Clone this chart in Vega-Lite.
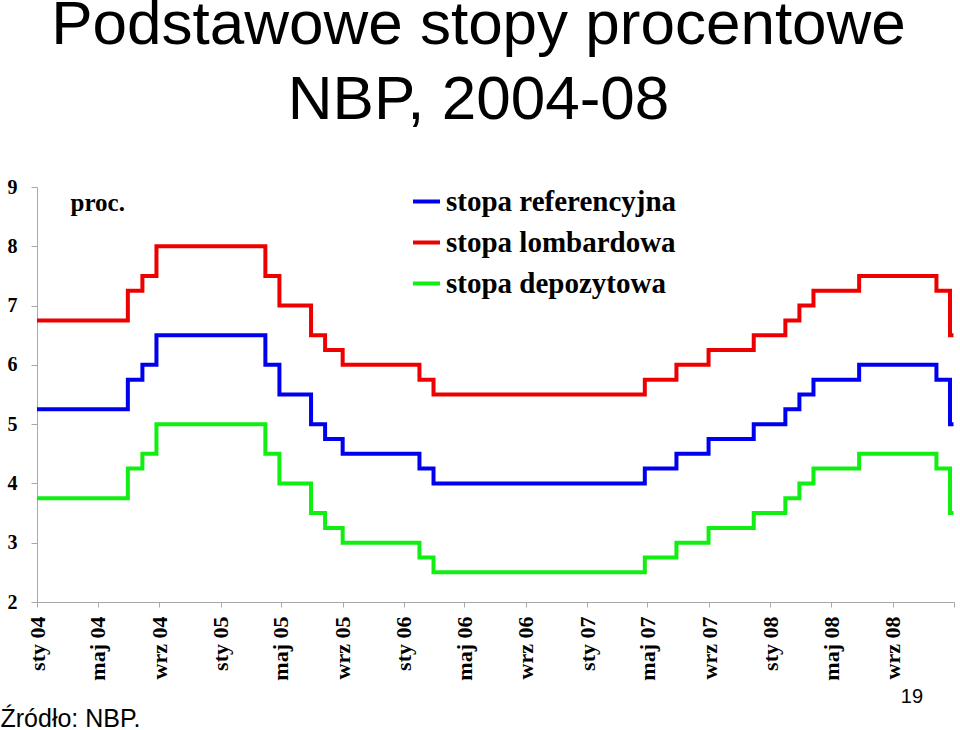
{
  "$schema": "https://vega.github.io/schema/vega-lite/v6.json",
  "width": 917,
  "height": 415,
  "autosize": {"type": "none"},
  "padding": {"left": 37, "top": 187, "right": 6, "bottom": 128},
  "background": "white",
  "config": {"view": {"stroke": null}},
  "title": {
    "text": ["Podstawowe stopy procentowe", "NBP, 2004-08"],
    "fontSize": 62,
    "font": "Liberation Sans",
    "fontWeight": "normal",
    "color": "black",
    "lineHeight": 75,
    "anchor": "middle",
    "frame": "group",
    "dx": -17,
    "offset": 45
  },
  "layer": [
    {
      "data": {
        "values": [
          {"series": "stopa referencyjna", "date": "2004-01-01T00:00", "rate": 5.25},
          {"series": "stopa referencyjna", "date": "2004-06-30T00:00", "rate": 5.75},
          {"series": "stopa referencyjna", "date": "2004-07-29T00:00", "rate": 6.0},
          {"series": "stopa referencyjna", "date": "2004-08-26T00:00", "rate": 6.5},
          {"series": "stopa referencyjna", "date": "2005-03-31T00:00", "rate": 6.0},
          {"series": "stopa referencyjna", "date": "2005-04-28T00:00", "rate": 5.5},
          {"series": "stopa referencyjna", "date": "2005-06-30T00:00", "rate": 5.0},
          {"series": "stopa referencyjna", "date": "2005-07-28T00:00", "rate": 4.75},
          {"series": "stopa referencyjna", "date": "2005-09-01T00:00", "rate": 4.5},
          {"series": "stopa referencyjna", "date": "2006-02-01T00:00", "rate": 4.25},
          {"series": "stopa referencyjna", "date": "2006-03-01T00:00", "rate": 4.0},
          {"series": "stopa referencyjna", "date": "2007-04-26T00:00", "rate": 4.25},
          {"series": "stopa referencyjna", "date": "2007-06-28T00:00", "rate": 4.5},
          {"series": "stopa referencyjna", "date": "2007-08-31T00:00", "rate": 4.75},
          {"series": "stopa referencyjna", "date": "2007-11-29T00:00", "rate": 5.0},
          {"series": "stopa referencyjna", "date": "2008-01-31T00:00", "rate": 5.25},
          {"series": "stopa referencyjna", "date": "2008-02-28T00:00", "rate": 5.5},
          {"series": "stopa referencyjna", "date": "2008-03-27T00:00", "rate": 5.75},
          {"series": "stopa referencyjna", "date": "2008-06-26T00:00", "rate": 6.0},
          {"series": "stopa referencyjna", "date": "2008-11-27T00:00", "rate": 5.75},
          {"series": "stopa referencyjna", "date": "2008-12-24T00:00", "rate": 5.0},
          {"series": "stopa referencyjna", "date": "2008-12-31T00:00", "rate": 5.0},

          {"series": "stopa lombardowa", "date": "2004-01-01T00:00", "rate": 6.75},
          {"series": "stopa lombardowa", "date": "2004-06-30T00:00", "rate": 7.25},
          {"series": "stopa lombardowa", "date": "2004-07-29T00:00", "rate": 7.5},
          {"series": "stopa lombardowa", "date": "2004-08-26T00:00", "rate": 8.0},
          {"series": "stopa lombardowa", "date": "2005-03-31T00:00", "rate": 7.5},
          {"series": "stopa lombardowa", "date": "2005-04-28T00:00", "rate": 7.0},
          {"series": "stopa lombardowa", "date": "2005-06-30T00:00", "rate": 6.5},
          {"series": "stopa lombardowa", "date": "2005-07-28T00:00", "rate": 6.25},
          {"series": "stopa lombardowa", "date": "2005-09-01T00:00", "rate": 6.0},
          {"series": "stopa lombardowa", "date": "2006-02-01T00:00", "rate": 5.75},
          {"series": "stopa lombardowa", "date": "2006-03-01T00:00", "rate": 5.5},
          {"series": "stopa lombardowa", "date": "2007-04-26T00:00", "rate": 5.75},
          {"series": "stopa lombardowa", "date": "2007-06-28T00:00", "rate": 6.0},
          {"series": "stopa lombardowa", "date": "2007-08-31T00:00", "rate": 6.25},
          {"series": "stopa lombardowa", "date": "2007-11-29T00:00", "rate": 6.5},
          {"series": "stopa lombardowa", "date": "2008-01-31T00:00", "rate": 6.75},
          {"series": "stopa lombardowa", "date": "2008-02-28T00:00", "rate": 7.0},
          {"series": "stopa lombardowa", "date": "2008-03-27T00:00", "rate": 7.25},
          {"series": "stopa lombardowa", "date": "2008-06-26T00:00", "rate": 7.5},
          {"series": "stopa lombardowa", "date": "2008-11-27T00:00", "rate": 7.25},
          {"series": "stopa lombardowa", "date": "2008-12-24T00:00", "rate": 6.5},
          {"series": "stopa lombardowa", "date": "2008-12-31T00:00", "rate": 6.5},

          {"series": "stopa depozytowa", "date": "2004-01-01T00:00", "rate": 3.75},
          {"series": "stopa depozytowa", "date": "2004-06-30T00:00", "rate": 4.25},
          {"series": "stopa depozytowa", "date": "2004-07-29T00:00", "rate": 4.5},
          {"series": "stopa depozytowa", "date": "2004-08-26T00:00", "rate": 5.0},
          {"series": "stopa depozytowa", "date": "2005-03-31T00:00", "rate": 4.5},
          {"series": "stopa depozytowa", "date": "2005-04-28T00:00", "rate": 4.0},
          {"series": "stopa depozytowa", "date": "2005-06-30T00:00", "rate": 3.5},
          {"series": "stopa depozytowa", "date": "2005-07-28T00:00", "rate": 3.25},
          {"series": "stopa depozytowa", "date": "2005-09-01T00:00", "rate": 3.0},
          {"series": "stopa depozytowa", "date": "2006-02-01T00:00", "rate": 2.75},
          {"series": "stopa depozytowa", "date": "2006-03-01T00:00", "rate": 2.5},
          {"series": "stopa depozytowa", "date": "2007-04-26T00:00", "rate": 2.75},
          {"series": "stopa depozytowa", "date": "2007-06-28T00:00", "rate": 3.0},
          {"series": "stopa depozytowa", "date": "2007-08-31T00:00", "rate": 3.25},
          {"series": "stopa depozytowa", "date": "2007-11-29T00:00", "rate": 3.5},
          {"series": "stopa depozytowa", "date": "2008-01-31T00:00", "rate": 3.75},
          {"series": "stopa depozytowa", "date": "2008-02-28T00:00", "rate": 4.0},
          {"series": "stopa depozytowa", "date": "2008-03-27T00:00", "rate": 4.25},
          {"series": "stopa depozytowa", "date": "2008-06-26T00:00", "rate": 4.5},
          {"series": "stopa depozytowa", "date": "2008-11-27T00:00", "rate": 4.25},
          {"series": "stopa depozytowa", "date": "2008-12-24T00:00", "rate": 3.5},
          {"series": "stopa depozytowa", "date": "2008-12-31T00:00", "rate": 3.5}
        ]
      },
      "mark": {"type": "line", "interpolate": "step-after", "strokeWidth": 4},
      "encoding": {
        "x": {
          "field": "date",
          "type": "temporal",
          "scale": {"domain": [{"year": 2004, "month": 1, "date": 1}, {"year": 2009, "month": 1, "date": 1}]},
          "axis": {
            "values": [
              {"year": 2004, "month": 1, "date": 1}, {"year": 2004, "month": 5, "date": 1}, {"year": 2004, "month": 9, "date": 1},
              {"year": 2005, "month": 1, "date": 1}, {"year": 2005, "month": 5, "date": 1}, {"year": 2005, "month": 9, "date": 1},
              {"year": 2006, "month": 1, "date": 1}, {"year": 2006, "month": 5, "date": 1}, {"year": 2006, "month": 9, "date": 1},
              {"year": 2007, "month": 1, "date": 1}, {"year": 2007, "month": 5, "date": 1}, {"year": 2007, "month": 9, "date": 1},
              {"year": 2008, "month": 1, "date": 1}, {"year": 2008, "month": 5, "date": 1}, {"year": 2008, "month": 9, "date": 1},
              {"year": 2009, "month": 1, "date": 1}
            ],
            "labelExpr": "year(datum.value) >= 2009 ? '' : (month(datum.value) == 0 ? 'sty' : (month(datum.value) == 4 ? 'maj' : 'wrz')) + ' ' + timeFormat(datum.value, '%y')",
            "labelAngle": -90,
            "labelFont": "Liberation Serif",
            "labelFontWeight": "bold",
            "labelFontSize": 22,
            "labelColor": "black",
            "labelPadding": 9,
            "labelOverlap": false,
            "labelFlush": false,
            "tickSize": 5,
            "tickColor": "#a8a8a8",
            "domainColor": "#a8a8a8",
            "grid": false,
            "title": "Źródło: NBP.",
            "titleFont": "Liberation Sans",
            "titleFontWeight": "normal",
            "titleFontSize": 25,
            "titleColor": "black",
            "titleAnchor": "start",
            "titleAlign": "left",
            "titleBaseline": "alphabetic",
            "titleX": -37,
            "titleY": 124
          }
        },
        "y": {
          "field": "rate",
          "type": "quantitative",
          "scale": {"domain": [2, 9], "nice": false, "zero": false},
          "axis": {
            "values": [2, 3, 4, 5, 6, 7, 8, 9],
            "format": "d",
            "labelFont": "Liberation Serif",
            "labelFontWeight": "bold",
            "labelFontSize": 20,
            "labelColor": "black",
            "labelPadding": 14,
            "tickSize": 6,
            "tickColor": "#a8a8a8",
            "domainColor": "#a8a8a8",
            "grid": false,
            "title": "proc.",
            "titleFont": "Liberation Serif",
            "titleFontWeight": "bold",
            "titleFontSize": 25,
            "titleColor": "black",
            "titleAngle": 0,
            "titleAlign": "left",
            "titleBaseline": "alphabetic",
            "titleX": 33,
            "titleY": 23
          }
        },
        "color": {
          "field": "series",
          "type": "nominal",
          "sort": ["stopa referencyjna", "stopa lombardowa", "stopa depozytowa"],
          "scale": {
            "domain": ["stopa referencyjna", "stopa lombardowa", "stopa depozytowa"],
            "range": ["#0000ee", "#ee0000", "#11ee11"]
          },
          "legend": {
            "title": null,
            "orient": "none",
            "legendX": 374,
            "legendY": -1,
            "direction": "vertical",
            "symbolType": "stroke",
            "symbolSize": 729,
            "symbolStrokeWidth": 4,
            "labelFont": "Liberation Serif",
            "labelFontWeight": "bold",
            "labelFontSize": 29,
            "labelColor": "black",
            "labelLimit": 400,
            "labelOffset": 4,
            "rowPadding": 10,
            "padding": 0
          }
        }
      }
    },
    {
      "data": {"values": [{"page": "19"}]},
      "mark": {"type": "text", "align": "left", "baseline": "alphabetic", "font": "Liberation Sans", "fontSize": 20, "color": "black"},
      "encoding": {
        "text": {"field": "page"},
        "x": {"datum": {"year": 2008, "month": 9, "date": 17}, "type": "temporal"},
        "y": {"datum": 0.3, "type": "quantitative"}
      }
    }
  ]
}
